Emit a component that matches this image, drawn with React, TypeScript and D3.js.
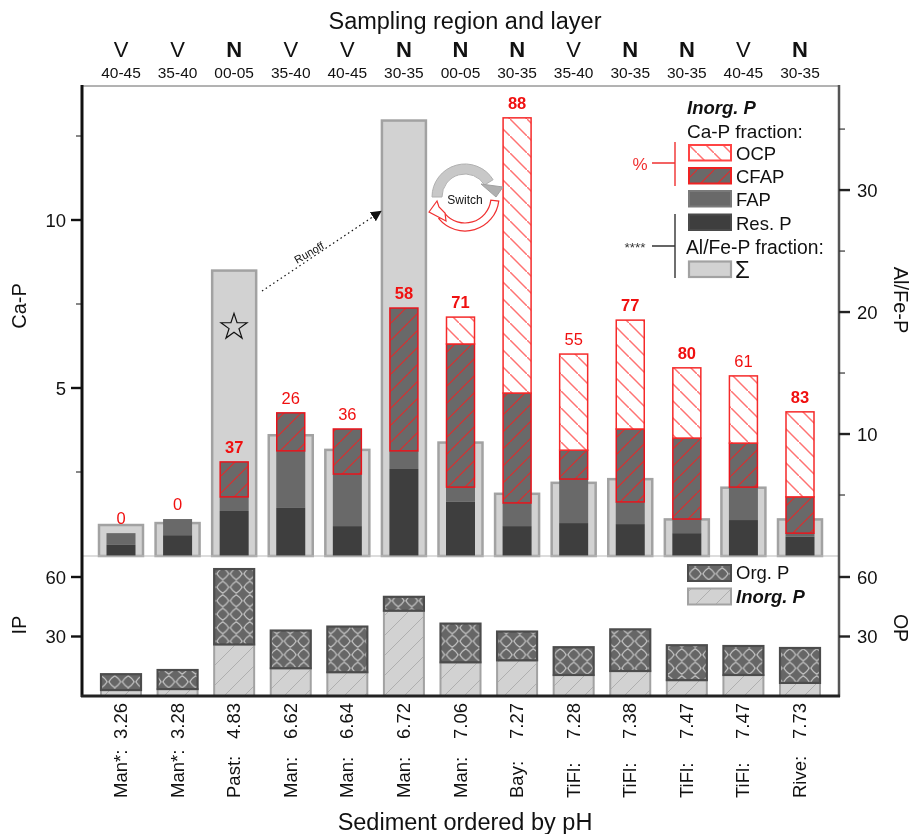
import React from "react";
import * as d3 from "d3";

const regions = ["V","V","N","V","V","N","N","N","V","N","N","V","N"];
const layers = ["40-45","35-40","00-05","35-40","40-45","30-35","00-05","30-35","35-40","30-35","30-35","40-45","30-35"];
const sites = ["Man*:","Man*:","Past:","Man:","Man:","Man:","Man:","Bay:","TiFl:","TiFl:","TiFl:","TiFl:","Rive:"];
const phs = ["3.26","3.28","4.83","6.62","6.64","6.72","7.06","7.27","7.28","7.38","7.47","7.47","7.73"];
const resP = [0.33,0.62,1.34,1.43,0.89,2.59,1.61,0.89,0.98,0.95,0.68,1.07,0.57];
const fap = [0.35,0.48,0.42,1.70,1.55,0.54,0.44,0.69,1.31,0.66,0.42,0.98,0.11];
const cfap = [0,0,1.04,1.13,1.34,4.25,4.26,3.27,0.86,2.17,2.41,1.31,1.08];
const ocp = [0,0,0,0,0,0,0.80,8.19,2.86,3.24,2.09,2.00,2.53];
const alFe = [2.54,2.7,23.4,9.9,8.7,35.7,9.3,5.1,6.0,6.3,3.0,5.6,3.0];
const percent = [0,0,37,26,36,58,71,88,55,77,80,61,83];
const percentBold = [false,false,true,false,false,true,true,true,false,true,true,false,true];
const inorgP = [3,3.5,26,14,12,43,17,18,10.6,12.6,8,10.6,6.6];
const orgP = [8,9.6,38,19,23,7,19.5,14.5,14,21,17.6,14.6,17.6];

const FONT = "'Liberation Sans', Arial, sans-serif";
const xPos = d3.scalePoint<number>().domain(d3.range(13)).range([121, 800]);
const yCa = d3.scaleLinear().domain([0, 14]).range([556, 85.6]);
const yAl = d3.scaleLinear().domain([0, 36.4]).range([556, 112]);
const yLow = d3.scaleLinear().domain([0, 60]).range([696, 577]);

const Fill = { res: "#3e3e3e", fap: "#696969", al: "#d2d2d2", alStroke: "#a2a2a2" };

function Rect({ cx, y0, y1, w, fill, stroke, sw = 0 }: any) {
  return <rect x={cx - w / 2} y={Math.min(y0, y1)} width={w} height={Math.abs(y0 - y1)} fill={fill} stroke={stroke} strokeWidth={sw} />;
}

function T({ x, y, size = 18, anchor = "middle", weight, style, fill = "#111", rotate, children, ...rest }: any) {
  return (
    <text x={x} y={y} fontSize={size} textAnchor={anchor} fontWeight={weight} fontStyle={style} fill={fill}
      fontFamily={FONT} transform={rotate != null ? `rotate(${rotate} ${x} ${y})` : undefined} {...rest}>{children}</text>
  );
}

export default function App() {
  const arcGrey = d3.arc()({ innerRadius: 23, outerRadius: 33, startAngle: -Math.PI / 2, endAngle: 1.02 }) as string;
  const arcRed = d3.arc()({ innerRadius: 26, outerRadius: 34, startAngle: Math.PI / 2 + 0.12, endAngle: Math.PI + 0.88 }) as string;
  const star = d3.symbol().type(d3.symbolStar).size(210)() as string;
  const caTicks = [2.5, 5, 7.5, 10, 12.5];
  const alTicks = [5, 10, 15, 20, 25, 30, 35];
  const swatches = [
    { y: 145, label: "OCP", fill: "url(#ocp)", stroke: "#f44" },
    { y: 168, label: "CFAP", fill: "url(#cfap)", stroke: "#e22" },
    { y: 191, label: "FAP", fill: Fill.fap, stroke: "#7a7a7a" },
    { y: 214.5, label: "Res. P", fill: Fill.res, stroke: "#4a4a4a" },
  ];
  return (
    <svg width={912} height={834} style={{ position: "absolute", left: 0, top: 0, background: "#fff" }}>
      <defs>
        <pattern id="ocp" width="17" height="17" patternUnits="userSpaceOnUse">
          <rect width="17" height="17" fill="#fff" />
          <path d="M-2,-2 L19,19" stroke="#ff7272" strokeWidth="1.5" />
        </pattern>
        <pattern id="cfap" width="17" height="17" patternUnits="userSpaceOnUse">
          <rect width="17" height="17" fill={Fill.fap} />
          <path d="M-2,19 L19,-2" stroke="#e02a2a" strokeWidth="1.1" />
        </pattern>
        <pattern id="org" width="13.5" height="13.5" patternUnits="userSpaceOnUse">
          <rect width="13.5" height="13.5" fill="#666" />
          <path d="M6.75,0.8 Q10.5,3 12.7,6.75 Q10.5,10.5 6.75,12.7 Q3,10.5 0.8,6.75 Q3,3 6.75,0.8 Z" fill="none" stroke="#cfcfcf" strokeWidth="1.1" />
        </pattern>
        <pattern id="inorg" width="20" height="20" patternUnits="userSpaceOnUse">
          <rect width="20" height="20" fill={Fill.al} />
          <path d="M-2,22 L22,-2" stroke="#ababab" strokeWidth="0.9" />
        </pattern>
        <marker id="arrowHead" viewBox="0 0 10 10" refX="8" refY="5" markerWidth="9" markerHeight="9" orient="auto">
          <path d="M0,0 L10,5 L0,10 Z" fill="#111" />
        </marker>
      </defs>
      <g style={{ filter: "blur(0.45px)" }}>
        {/* Al/Fe-P */}
        {alFe.map((v, i) => (
          <Rect key={i} cx={xPos(i)} y0={yAl(0)} y1={yAl(v)} w={44} fill={Fill.al} stroke={Fill.alStroke} sw={2.5} />
        ))}
        {/* Ca-P stacks */}
        {resP.map((v, i) => {
          const c1 = v, c2 = c1 + fap[i], c3 = c2 + cfap[i], c4 = c3 + ocp[i];
          const cx = xPos(i)!;
          return (
            <g key={i}>
              <Rect cx={cx} y0={yCa(0)} y1={yCa(c1)} w={29} fill={Fill.res} />
              <Rect cx={cx} y0={yCa(c1)} y1={yCa(c2)} w={29} fill={Fill.fap} />
              {cfap[i] > 0 && <Rect cx={cx} y0={yCa(c2)} y1={yCa(c3)} w={28} fill="url(#cfap)" stroke="#e8141c" sw={1.5} />}
              {ocp[i] > 0 && <Rect cx={cx} y0={yCa(c3)} y1={yCa(c4)} w={28} fill="url(#ocp)" stroke="#f52a2a" sw={1.5} />}
              <T x={cx} y={yCa(c4) - 9} size={16.5} fill="#f01010" weight={percentBold[i] ? "bold" : "normal"}>{percent[i]}</T>
            </g>
          );
        })}
        {/* Lower panel */}
        {inorgP.map((v, i) => {
          const cx = xPos(i)!;
          return (
            <g key={i}>
              <Rect cx={cx} y0={yLow(0)} y1={yLow(v)} w={40} fill="url(#inorg)" stroke="#a2a2a2" sw={2} />
              <Rect cx={cx} y0={yLow(v)} y1={yLow(v + orgP[i])} w={40} fill="url(#org)" stroke="#4c4c4c" sw={2.2} />
            </g>
          );
        })}
        {/* Frame */}
        <line x1={82} x2={839} y1={86} y2={86} stroke="#666" strokeWidth={1} />
        <line x1={82} x2={839} y1={556} y2={556} stroke="#bbb" strokeWidth={1} />
        <line x1={82} x2={82} y1={85} y2={697} stroke="#111" strokeWidth={3} />
        <line x1={839} x2={839} y1={85} y2={697} stroke="#555" strokeWidth={2.5} />
        <line x1={81} x2={840} y1={696} y2={696} stroke="#222" strokeWidth={3} />
        {/* Ticks */}
        {caTicks.map((t) => {
          const major = t % 5 === 0;
          return <line key={t} x1={major ? 71 : 76} x2={82} y1={yCa(t)} y2={yCa(t)} stroke="#111" strokeWidth={major ? 2.4 : 1} />;
        })}
        {[5, 10].map((t) => <T key={t} x={66} y={yCa(t) + 6.5} anchor="end" size={18.5}>{t}</T>)}
        {alTicks.map((t) => {
          const major = t % 10 === 0;
          return <line key={t} x1={839} x2={major ? 850 : 845} y1={yAl(t)} y2={yAl(t)} stroke={major ? "#222" : "#333"} strokeWidth={major ? 2.4 : 1.2} />;
        })}
        {[10, 20, 30].map((t) => <T key={t} x={857} y={yAl(t) + 6.5} anchor="start" size={18.5}>{t}</T>)}
        {[30, 60].map((t) => (
          <g key={t}>
            <line x1={71} x2={82} y1={yLow(t)} y2={yLow(t)} stroke="#111" strokeWidth={2.4} />
            <T x={66} y={yLow(t) + 6.5} anchor="end" size={18.5}>{t}</T>
            <line x1={839} x2={850} y1={yLow(t)} y2={yLow(t)} stroke="#222" strokeWidth={2.4} />
            <T x={857} y={yLow(t) + 6.5} anchor="start" size={18.5}>{t}</T>
          </g>
        ))}
        {/* Titles */}
        <T x={465} y={29} size={23.5}>Sampling region and layer</T>
        <T x={465} y={830} size={23.5}>Sediment ordered by pH</T>
        <T x={26} y={306} size={20} rotate={-90}>Ca-P</T>
        <T x={26} y={625} size={20} rotate={-90}>IP</T>
        <T x={894} y={300} size={20} rotate={90}>Al/Fe-P</T>
        <T x={894} y={628} size={19.5} rotate={90}>OP</T>
        {/* Top and bottom categories */}
        {regions.map((r, i) => (
          <g key={i}>
            <T x={xPos(i)} y={57} size={22} weight={r === "N" ? "bold" : "normal"}>{r}</T>
            <T x={xPos(i)} y={78} size={15.5}>{layers[i]}</T>
            <text transform={`translate(${xPos(i)! + 6},798) rotate(-90)`} fontSize={18.5} fontFamily={FONT} fill="#111">
              <tspan x={0} y={0}>{sites[i]}</tspan>
              <tspan x={95} y={0} textAnchor="end"> {phs[i]}</tspan>
            </text>
          </g>
        ))}
        {/* Legend */}
        <T x={687} y={114} size={18.5} anchor="start" weight="bold" style="italic">Inorg. P</T>
        <T x={687} y={138} size={19} anchor="start">Ca-P fraction:</T>
        {swatches.map((s) => (
          <g key={s.label}>
            <rect x={689} y={s.y} width={42} height={15.5} fill={s.fill} stroke={s.stroke} strokeWidth={2} />
            <T x={736} y={s.y + 15} size={18.5} anchor="start">{s.label}</T>
          </g>
        ))}
        <T x={686} y={254} size={19.3} anchor="start">Al/Fe-P fraction:</T>
        <rect x={689} y={261.5} width={42} height={15.5} fill={Fill.al} stroke={Fill.alStroke} strokeWidth={2.2} />
        <T x={735} y={278} size={24} anchor="start">Σ</T>
        <path d="M675,142 V186 M652,163 H675" fill="none" stroke="#f03030" strokeWidth={1.4} />
        <T x={640} y={170} size={17} fill="#f03030">%</T>
        <path d="M675,214 V278 M652,246 H675" fill="none" stroke="#333" strokeWidth={1.4} />
        <T x={635} y={252} size={13.5} fill="#333">****</T>
        <rect x={688} y={565} width={43} height={16} fill="url(#org)" stroke="#4c4c4c" strokeWidth={2} />
        <T x={736} y={579} size={18.5} anchor="start">Org. P</T>
        <rect x={688} y={588.5} width={43} height={16} fill="url(#inorg)" stroke="#a2a2a2" strokeWidth={2} />
        <T x={736} y={603} size={18.5} anchor="start" weight="bold" style="italic">Inorg. P</T>
        {/* Annotations */}
        <path d={star} transform="translate(234,327)" fill="none" stroke="#111" strokeWidth={1.2} />
        <line x1={262} y1={291} x2={380} y2={212} stroke="#111" strokeWidth={1.2} strokeDasharray="1.5 3" markerEnd="url(#arrowHead)" />
        <T x={311} y={256} size={11} rotate={-30}>Runoff</T>
        <g transform="translate(465,197)">
          <path d={arcGrey} fill="#c8c8c8" stroke="#b0b0b0" strokeWidth={1} />
        </g>
        <path d="M503,187 L481,184 L496,197 Z" fill="#b0b0b0" stroke="#a0a0a0" strokeWidth={1} />
        <g transform="translate(465,197)">
          <path d={arcRed} fill="#fff" stroke="#f03030" strokeWidth={1.2} />
        </g>
        <path d="M429,212 L437,201 L439,207 L445,213 L446,221 Z" fill="#fff" stroke="#f03030" strokeWidth={1.2} />
        <T x={465} y={204} size={12}>Switch</T>
      </g>
    </svg>
  );
}
